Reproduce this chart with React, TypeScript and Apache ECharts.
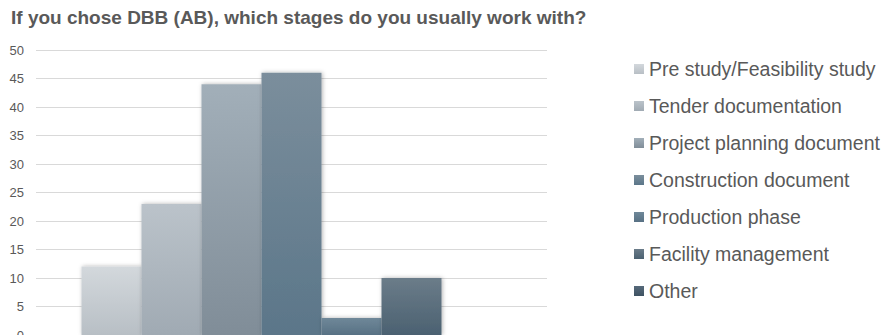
import React, { useEffect, useRef } from "react";
import * as echarts from "echarts";

const title = "If you chose DBB (AB), which stages do you usually work with?";
const categories = ["DBB (AB)"];
const seriesNames = [
  "Pre study/Feasibility study",
  "Tender documentation",
  "Project planning document",
  "Construction document",
  "Production phase",
  "Facility management",
  "Other",
];
const seriesValues = [12, 23, 44, 46, 3, 10, 0];
const yTicks = { min: 0, max: 50, interval: 5 };
const colorsTop = ["#d3d8dc", "#bbc3ca", "#a2afb9", "#7b8e9c", "#6f8899", "#6b7c89", "#56697a"];
const colorsBottom = ["#b8bfc5", "#a0aab3", "#808d98", "#5b7689", "#587184", "#4b6171", "#3e5262"];

export default function App() {
  const ref = useRef<HTMLDivElement>(null);
  useEffect(() => {
    if (!ref.current) return;
    const chart = echarts.init(ref.current, null, { renderer: "svg" });
    const series = seriesNames.map((name, i) => ({
      name,
      type: "bar",
      data: [seriesValues[i]],
      barGap: "0%",
      barCategoryGap: "17.8%",
      itemStyle: {
        color: new echarts.graphic.LinearGradient(0, 0, 0, 1, [
          { offset: 0, color: colorsTop[i] },
          { offset: 1, color: colorsBottom[i] },
        ]),
        shadowBlur: 4,
        shadowColor: "rgba(0,0,0,0.3)",
        shadowOffsetX: 1,
        shadowOffsetY: 0,
      },
      emphasis: { disabled: true },
    }));
    chart.setOption({
      animation: false,
      title: {
        text: title,
        left: 11,
        top: 8,
        padding: 0,
        textStyle: {
          fontFamily: "Liberation Sans, Arial, sans-serif",
          fontSize: 19,
          fontWeight: "bold",
          color: "#595959",
        },
      },
      legend: {
        orient: "vertical",
        left: 634,
        top: 59,
        padding: 0,
        itemWidth: 10,
        itemHeight: 10,
        itemGap: 17,
        icon: "rect",
        textStyle: {
          fontFamily: "Liberation Sans, Arial, sans-serif",
          fontSize: 19.5,
          color: "#595959",
          lineHeight: 20,
        },
        data: seriesNames,
      },
      grid: { left: 36, right: 347, top: 50, bottom: 0, containLabel: false, outerBoundsMode: "none" },
      xAxis: {
        type: "category",
        data: categories,
        axisLabel: { show: false },
        axisTick: { show: false },
        axisLine: { show: true, lineStyle: { color: "#d9d9d9" } },
      },
      yAxis: {
        type: "value",
        min: yTicks.min,
        max: yTicks.max,
        interval: yTicks.interval,
        axisLine: { show: false },
        axisTick: { show: false },
        splitLine: { lineStyle: { color: "#d9d9d9", width: 1 } },
        axisLabel: {
          color: "#595959",
          fontSize: 13,
          margin: 12,
          fontFamily: "Liberation Sans, Arial, sans-serif",
        },
      },
      series,
    });
    return () => chart.dispose();
  }, []);
  return (
    <div
      ref={ref}
      style={{ position: "fixed", left: 0, top: 0, width: 894, height: 335, background: "#fff" }}
    />
  );
}
